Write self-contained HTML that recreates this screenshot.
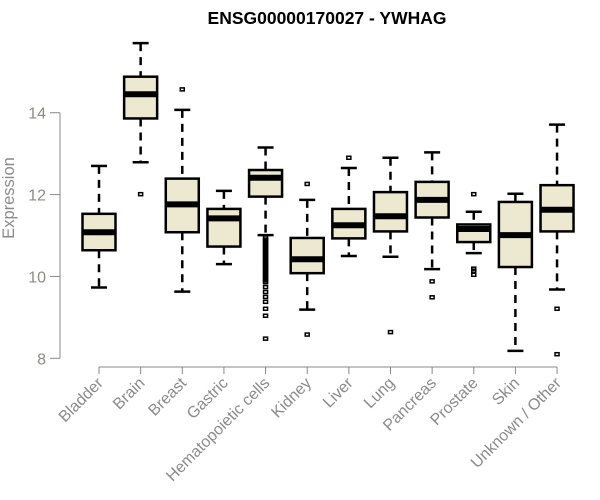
<!DOCTYPE html>
<html><head><meta charset="utf-8"><style>
body{margin:0;background:#fff}
svg{display:block;font-family:"Liberation Sans",sans-serif}
</style></head><body>
<svg id="chart" width="600" height="500">
<text x="327" y="24" text-anchor="middle" font-weight="bold" font-size="17.5">ENSG00000170027 - YWHAG</text>
<text transform="translate(14,198) rotate(-90)" text-anchor="middle" font-size="16.5" fill="#8a8a8a">Expression</text>
<g id="yaxis"></g>
<g id="xaxis"></g>
<g id="boxes"></g>
</svg>
<script>
const categories=["Bladder","Brain","Breast","Gastric","Hematopoietic cells","Kidney","Liver","Lung","Pancreas","Prostate","Skin","Unknown / Other"];
const whiskerLow=[9.73,12.79,9.63,10.30,11.01,9.19,10.50,10.48,10.18,10.57,8.18,9.68];
const q1=[10.64,13.86,11.08,10.73,11.95,10.08,10.93,11.10,11.44,10.84,10.23,11.10];
const medians=[11.08,14.45,11.76,11.42,12.41,10.42,11.25,11.47,11.87,11.16,11.01,11.63];
const q3=[11.53,14.88,12.39,11.65,12.60,10.94,11.65,12.06,12.31,11.27,11.82,12.23];
const whiskerHigh=[12.70,15.70,14.07,12.09,13.15,11.87,12.65,12.90,13.03,11.58,12.02,13.71];
const outliers=[[],[12.01],[14.57],[],
 [10.95,10.9,10.85,10.8,10.75,10.7,10.65,10.6,10.55,10.5,10.45,10.4,10.35,10.3,10.25,10.2,10.15,10.1,10.05,10.0,9.95,9.9,9.86,9.74,9.62,9.50,9.38,9.21,9.04,8.48],
 [12.26,8.58],[12.90],[8.64],[9.88,9.49],[12.01,10.19,10.14,10.04],[],[9.21,8.10]];
const yTicks=[8,10,12,14];
const NS="http://www.w3.org/2000/svg";
const y=v=>358.3-(v-8)*40.93;
const x=i=>99+i*41.64;
function mk(tag,attrs,parent){const e=document.createElementNS(NS,tag);for(const k in attrs)e.setAttribute(k,attrs[k]);parent.appendChild(e);return e;}
const ya=document.getElementById('yaxis'),xa=document.getElementById('xaxis'),bx=document.getElementById('boxes');
let l=mk('line',{x1:60,x2:60,y1:y(14),y2:y(8),stroke:'#888'},ya);


yTicks.forEach(t=>{
 const tk=mk('line',{x1:50,x2:60,y1:y(t),y2:y(t),stroke:'#888'},ya);
 
 
 const tx=mk('text',{x:46,y:y(t)+6,'text-anchor':'end','font-size':16,fill:'#8c8c7e'},ya);
 tx.textContent=t;
 
 
});
l=mk('line',{x1:x(0),x2:x(categories.length-1),y1:367,y2:367,stroke:'#888'},xa);


categories.forEach((c,i)=>{
 const cx=x(i);
 const tk=mk('line',{x1:cx,x2:cx,y1:367,y2:374,stroke:'#888'},xa);
 
 
 const tx=mk('text',{x:cx+5,y:384,'text-anchor':'end','font-size':16,fill:'#8a8a8a',transform:`rotate(-45 ${cx+5} 384)`},xa);
 tx.textContent=c;
 
 
 const g=mk('g',{},bx);
 
 
 mk('line',{x1:cx,x2:cx,y1:y(whiskerHigh[i]),y2:y(q3[i]),stroke:'#000','stroke-width':2.5,'stroke-dasharray':'8,6'},g);
 mk('line',{x1:cx,x2:cx,y1:y(q1[i]),y2:y(whiskerLow[i]),stroke:'#000','stroke-width':2.5,'stroke-dasharray':'8,6'},g);
 mk('line',{x1:cx-8,x2:cx+8,y1:y(whiskerHigh[i]),y2:y(whiskerHigh[i]),stroke:'#000','stroke-width':2.5},g);
 mk('line',{x1:cx-8,x2:cx+8,y1:y(whiskerLow[i]),y2:y(whiskerLow[i]),stroke:'#000','stroke-width':2.5},g);
 mk('rect',{x:cx-16.5,y:y(q3[i]),width:33,height:y(q1[i])-y(q3[i]),fill:'#ede8d0',stroke:'#000','stroke-width':2.5},g);
 mk('line',{x1:cx-16.5,x2:cx+16.5,y1:y(medians[i]),y2:y(medians[i]),stroke:'#000','stroke-width':6},g);
 outliers[i].forEach(o=>{
  const p=mk('rect',{x:cx-2,y:y(o)-1.5,width:4,height:3,fill:'none',stroke:'#000','stroke-width':1.5},g);
  
  
 });
});
</script>
</body></html>
